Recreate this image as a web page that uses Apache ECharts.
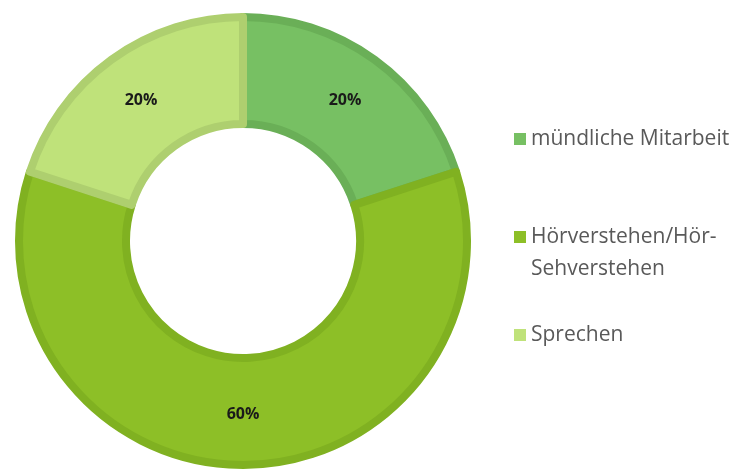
<!DOCTYPE html>
<html>
<head>
<meta charset="utf-8">
<script src="https://cdn.jsdelivr.net/npm/echarts@6/dist/echarts.min.js"></script>
<style>
  html, body { margin: 0; padding: 0; background: #fff; }
  #chart { width: 739px; height: 471px; }
</style>
</head>
<body>
<div id="chart"></div>
<script>
const categories = ['mündliche Mitarbeit', 'Hörverstehen/Hör-\nSehverstehen', 'Sprechen']
const shares = [20, 60, 20]
const fillColors = ['#77C063', '#8DBF27', '#BFE27A']
const borderColors = ['#6AAF57', '#80B121', '#AECF6F']

const chart = echarts.init(document.getElementById('chart'))

const option = {
  animation: false,
  legend: {
    orient: 'vertical',
    left: 514,
    top: 123,
    padding: 0,
    itemWidth: 12,
    itemHeight: 12,
    itemGap: 34,
    icon: 'rect',
    selectedMode: false,
    itemStyle: { borderWidth: 0 },
    data: categories,
    // empty line above a wrapped name keeps the icon level with its first line
    formatter: name => (name.indexOf('\n') >= 0 ? '\n' + name : name),
    textStyle: {
      fontFamily: 'Open Sans',
      fontSize: 21,
      color: '#595959',
      lineHeight: 32
    }
  },
  series: [
    {
      type: 'pie',
      center: [243, 241],
      radius: [117, 224],
      startAngle: 90,
      clockwise: true,
      label: {
        show: true,
        position: 'inside',
        formatter: '{c}%',
        fontFamily: 'Open Sans',
        fontWeight: 'bold',
        fontSize: 16,
        color: '#1a1a1a'
      },
      labelLine: { show: false },
      emphasis: { disabled: true },
      data: categories.map((name, i) => ({
        name: name,
        value: shares[i],
        itemStyle: {
          color: fillColors[i],
          borderColor: borderColors[i],
          borderWidth: 8
        }
      }))
    }
  ]
}

chart.setOption(option)
</script>
</body>
</html>
